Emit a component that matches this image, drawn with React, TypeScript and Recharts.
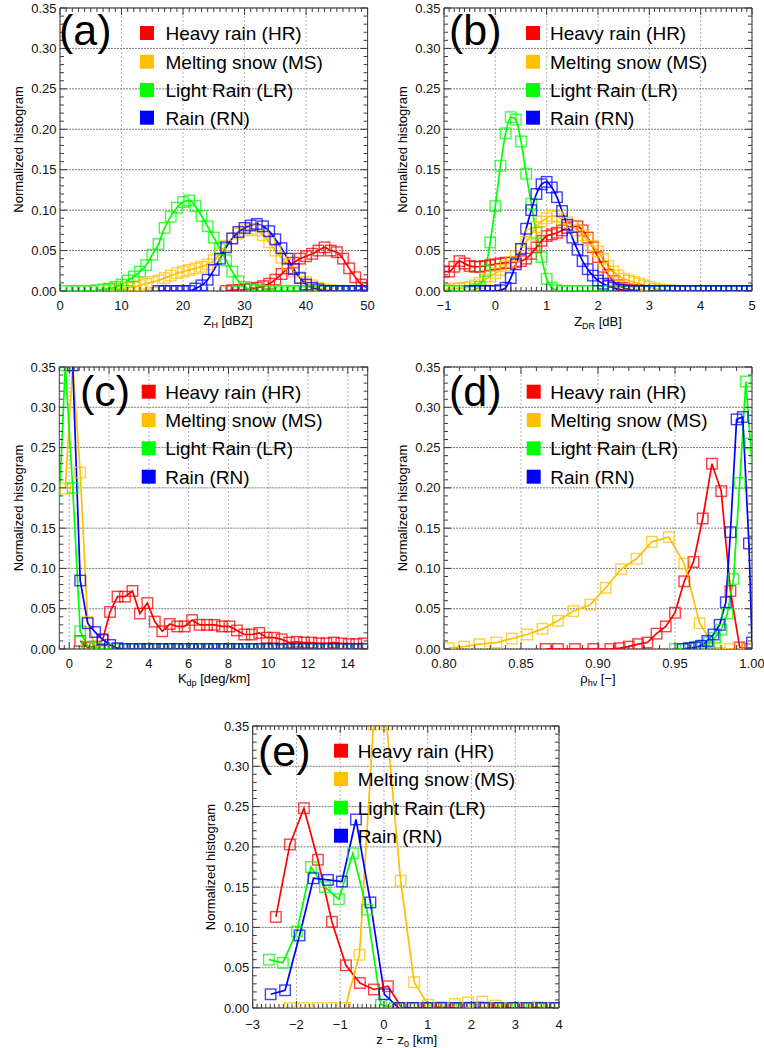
import React from 'react'
import { LineChart, Line, XAxis, YAxis, CartesianGrid, ReferenceArea } from 'recharts'

const FONT = '"Liberation Sans", Arial, Helvetica, sans-serif'
const FRAME = '#3c3c3c'

const CLASS_NAMES = ['Heavy rain (HR)', 'Melting snow (MS)', 'Light Rain (LR)', 'Rain (RN)']
const CLASS_COLORS = ['#ff0000', '#ffc000', '#00ff00', '#0000ff']

const Y_TICKS = [0, 0.05, 0.1, 0.15, 0.2, 0.25, 0.3, 0.35]

// (a) Z_H [dBZ]
const ZH_TICKS = [0, 10, 20, 30, 40, 50]
const ZH_BINS = [
    0, 1, 2, 3, 4, 5, 6, 7, 8, 9, 10, 11, 12, 13, 14, 15, 16, 17, 18, 19, 20, 21, 22, 23, 24, 25,
    26, 27, 28, 29, 30, 31, 32, 33, 34, 35, 36, 37, 38, 39, 40, 41, 42, 43, 44, 45, 46, 47, 48, 49, 50,
]
const ZH_HR = [
    0, 0.001, 0.001, 0.002, 0.003, 0.004, 0.006, 0.009, 0.014, 0.021, 0.028, 0.035, 0.04, 0.043,
    0.046, 0.05, 0.054, 0.05, 0.048, 0.04, 0.028, 0.017, 0.008, 0.004,
]
const ZH_MS = [
    0.001, 0.002, 0.003, 0.004, 0.005, 0.007, 0.009, 0.011, 0.013, 0.016, 0.019, 0.022, 0.024, 0.026,
    0.028, 0.03, 0.033, 0.038, 0.046, 0.056, 0.065, 0.071, 0.075, 0.077, 0.075, 0.069, 0.06, 0.05,
    0.041, 0.033, 0.024, 0.017, 0.011, 0.007, 0.004, 0.002, 0.001, 0, 0,
]
const ZH_LR = [
    0, 0, 0, 0, 0, 0.001, 0.002, 0.003, 0.005, 0.008, 0.013, 0.018, 0.024, 0.032, 0.045, 0.058,
    0.078, 0.092, 0.103, 0.11, 0.112, 0.105, 0.093, 0.08, 0.066, 0.052, 0.038, 0.024, 0.012, 0.005,
    0.002, 0.001, 0, 0, 0, 0, 0, 0, 0, 0, 0, 0, 0, 0, 0, 0, 0, 0, 0, 0,
]
const ZH_RN = [
    0, 0, 0, 0, 0, 0, 0.003, 0.007, 0.014, 0.026, 0.04, 0.054, 0.065, 0.073, 0.078, 0.081, 0.083,
    0.08, 0.074, 0.064, 0.053, 0.04, 0.027, 0.016, 0.008, 0.004, 0.002, 0, 0, 0, 0, 0, 0, 0, 0,
]

// (b) Z_DR [dB]
const ZDR_TICKS = [-1, 0, 1, 2, 3, 4, 5]
const ZDR_BINS = [
    -1, -0.9, -0.8, -0.7, -0.6, -0.5, -0.4, -0.3, -0.2, -0.1, 0, 0.1, 0.2, 0.3, 0.4, 0.5, 0.6, 0.7,
    0.8, 0.9, 1, 1.1, 1.2, 1.3, 1.4, 1.5, 1.6, 1.7, 1.8, 1.9, 2, 2.1, 2.2, 2.3, 2.4, 2.5, 2.6, 2.7,
    2.8, 2.9, 3, 3.1, 3.2, 3.3, 3.4, 3.5, 3.6, 3.7, 3.8, 3.9, 4, 4.1, 4.2, 4.3, 4.4, 4.5, 4.6, 4.7,
    4.8, 4.9, 5,
]
const ZDR_HR = [
    0.024, 0.024, 0.03, 0.037, 0.034, 0.031, 0.03, 0.03, 0.031, 0.032, 0.033, 0.034, 0.035, 0.035,
    0.036, 0.037, 0.04, 0.046, 0.054, 0.062, 0.068, 0.07, 0.072, 0.075, 0.078, 0.08, 0.08, 0.075,
    0.066, 0.054, 0.042, 0.03, 0.02, 0.012, 0.007, 0.004, 0.002, 0.001, 0.001, 0,
    null, null, null, null, null, null, null, null, null, null, null,
    null, null, null, null, null, null, null, null, null, null,
]
const ZDR_MS = [
    0.002, 0.002, 0.003, 0.003, 0.004, 0.005, 0.007, 0.01, 0.014, 0.018, 0.022, 0.026, 0.031, 0.036,
    0.043, 0.052, 0.061, 0.07, 0.079, 0.086, 0.09, 0.093, 0.092, 0.089, 0.085, 0.08, 0.075, 0.069,
    0.063, 0.056, 0.049, 0.04, 0.031, 0.024, 0.019, 0.015, 0.013, 0.011, 0.009, 0.007, 0.005, 0.003,
    0.002, 0.001, 0.001, 0, 0,
    null, null, null, null, null, null, null, null, null, null, null, null, null, null,
]
const ZDR_LR = [
    0, 0, 0, 0, 0, 0, 0.002, 0.005, 0.025, 0.06, 0.105, 0.155, 0.195, 0.215, 0.212, 0.185, 0.145,
    0.108, 0.072, 0.042, 0.015, 0.004, 0.001,
    0, 0, 0, 0, 0, 0, 0, 0, 0, 0, 0, 0, 0, 0, 0, 0, 0, 0, 0, 0,
    0, 0, 0, 0, 0, 0, 0, 0, 0, 0, 0, 0, 0, 0, 0, 0, 0, 0,
]
const ZDR_RN = [
    null, null, null, null, null, 0, 0, 0, 0, 0, 0, 0.001, 0.004, 0.016, 0.033, 0.052, 0.077, 0.1,
    0.12, 0.132, 0.135, 0.128, 0.116, 0.099, 0.082, 0.066, 0.051, 0.037, 0.027, 0.019, 0.013, 0.009,
    0.006, 0.004, 0.002, 0.001,
    0, 0, 0, 0, 0, 0, 0, 0, 0, 0, 0, 0, 0, 0, 0, 0, 0, 0, 0, 0, 0, 0, 0, 0, 0,
]

// (c) K_dp [deg/km]
const KDP_TICKS = [0, 2, 4, 6, 8, 10, 12, 14]
const KDP_BINS = [
    -0.575, -0.2, 0.175, 0.55, 0.925, 1.3, 1.675, 2.05, 2.425, 2.8, 3.175, 3.55, 3.925, 4.3, 4.675,
    5.05, 5.425, 5.8, 6.175, 6.55, 6.925, 7.3, 7.675, 8.05, 8.425, 8.8, 9.175, 9.55, 9.925, 10.3,
    10.675, 11.05, 11.425, 11.8, 12.175, 12.55, 12.925, 13.3, 13.675, 14.05, 14.425, 14.8,
]
const KDP_HR = [
    null, null, null, 0.01, 0.002, 0.003, 0.011, 0.046, 0.065, 0.065, 0.072, 0.044, 0.057, 0.034,
    0.022, 0.031, 0.028, 0.028, 0.036, 0.03, 0.03, 0.03, 0.028, 0.028, 0.023, 0.018, 0.018, 0.02,
    0.014, 0.014, 0.012, 0.008, 0.009, 0.008, 0.008, 0.007, 0.007, 0.008, 0.007, 0.006, 0.006, 0.007,
]
const KDP_MS = [
    null, 0.199, 0.352, 0.219, 0.034, 0.002,
    0, 0, 0, 0, 0, 0, 0, 0, 0, 0, 0, 0, 0, 0, 0, 0, 0, 0, 0, 0, 0, 0, 0, 0, 0, 0, 0, 0, 0, 0, 0, 0,
    0, 0, 0, 0,
]
const KDP_LR = [
    0.14, 0.352, 0.2, 0.022, 0.003, 0.001,
    0, 0, 0, 0, 0, 0, 0, 0, 0, 0, 0, 0, 0, 0, 0, 0, 0, 0, 0, 0, 0, 0, 0, 0, 0, 0, 0, 0, 0, 0, 0, 0,
    0, 0, 0, 0,
]
const KDP_RN = [
    null, 0.45, 0.352, 0.085, 0.032, 0.021, 0.012, 0.005, 0.001,
    0, 0, 0, 0, 0, 0, 0, 0, 0, 0, 0, 0, 0, 0, 0, 0, 0, 0, 0, 0, 0, 0, 0, 0, 0, 0, 0, 0, 0, 0, 0, 0,
    0,
]

// (d) rho_hv [-]
const RHO_TICKS = [0.8, 0.85, 0.9, 0.95, 1.0]
const RHO_HR_X = [
    0.866, 0.874, 0.885, 0.897, 0.908, 0.914, 0.92, 0.926, 0.932, 0.938, 0.944, 0.95, 0.956, 0.962,
    0.968, 0.974, 0.98, 0.986, 0.992, 0.997,
]
const RHO_HR = [
    0, 0, 0, 0, 0, 0.001, 0.003, 0.006, 0.008, 0.019, 0.028, 0.045, 0.084, 0.108, 0.162, 0.23, 0.196,
    0.072, 0.002, 0,
]
const RHO_MS_X = [
    0.803, 0.813, 0.823, 0.834, 0.844, 0.854, 0.864, 0.874, 0.884, 0.895, 0.905, 0.915, 0.925, 0.935,
    0.946, 0.956, 0.966, 0.976, 0.986, 0.997,
]
const RHO_MS = [
    0.001, 0.003, 0.006, 0.008, 0.013, 0.018, 0.025, 0.035, 0.047, 0.055, 0.076, 0.099, 0.112, 0.133,
    0.139, 0.106, 0.032, 0.002, 0, 0,
]
const RHO_LR_X = [0.95, 0.955, 0.96, 0.964, 0.968, 0.972, 0.976, 0.98, 0.984, 0.988, 0.992, 0.996, 0.999, 1.002]
const RHO_LR = [0, 0, 0.001, 0.002, 0.004, 0.008, 0.014, 0.024, 0.044, 0.087, 0.206, 0.332, 0.255, 0.17]
const RHO_RN_X = [0.955, 0.959, 0.963, 0.967, 0.971, 0.975, 0.979, 0.983, 0.986, 0.99, 0.994, 0.998, 1.0]
const RHO_RN = [0, 0.001, 0.002, 0.004, 0.01, 0.018, 0.03, 0.058, 0.145, 0.285, 0.288, 0.131, 0.008]

// (e) z - z0 [km]
const DZ_TICKS = [-3, -2, -1, 0, 1, 2, 3, 4]
const DZ_HR_X = [
    -2.47, -2.15, -1.83, -1.51, -1.19, -0.87, -0.55, -0.23, 0.09, 0.41, 0.73, 1.05, 1.37, 1.69, 2.01,
    2.33, 2.65, 2.97, 3.29, 3.61, 3.93,
]
const DZ_HR = [0.113, 0.203, 0.248, 0.184, 0.107, 0.053, 0.031, 0.023, 0.027, 0, 0, 0, 0, 0, 0, 0, 0, 0, 0, 0, 0]
const DZ_MS_X = [
    -2.15, -1.84, -1.52, -1.2, -0.89, -0.56, -0.24, 0.06, 0.38, 0.69, 1.01, 1.31, 1.62, 1.92, 2.25,
    2.55, 2.87, 3.18, 3.48, 3.79,
]
const DZ_MS = [0, 0, 0, 0, 0, 0.066, 0.352, 0.352, 0.158, 0.032, 0.004, 0.001, 0.005, 0.007, 0.008, 0.003, 0, 0, 0.001, 0]
const DZ_LR_X = [
    -2.63, -2.31, -1.99, -1.67, -1.35, -1.03, -0.71, -0.39, -0.07, 0.25, 0.57, 0.89, 1.21, 1.53, 1.85,
    2.17, 2.49, 2.81, 3.13, 3.45, 3.77,
]
const DZ_LR = [0.06, 0.056, 0.095, 0.175, 0.15, 0.135, 0.192, 0.122, 0.004, 0, 0, 0, 0, 0, 0, 0, 0, 0, 0, 0, 0]
const DZ_RN_X = [
    -2.59, -2.26, -1.93, -1.61, -1.28, -0.96, -0.64, -0.31, 0.01, 0.34, 0.66, 0.99, 1.31, 1.64, 1.96,
    2.29, 2.61, 2.94, 3.26, 3.59, 3.91,
]
const DZ_RN = [0.017, 0.022, 0.09, 0.161, 0.159, 0.157, 0.234, 0.131, 0.017, 0, 0, 0, 0, 0, 0, 0, 0, 0, 0, 0, 0]

type Series = { x: number[]; y: (number | null)[] }

interface PanelCfg {
    label: string
    box: { l: number; t: number; w: number; h: number }
    plot: { l: number; t: number; r: number; b: number }
    xDomain: [number, number]
    xMajor: number[]
    xMinorStep: number
    xFmt: (v: number) => string
    series: Series[]
    smooth: boolean
    tickBase: number
    labelPos: [number, number]
    legend: { sq: number; tx: number; rows: number[] }
    yTitle: [number, number]
    xTitle: [number, number]
    xTitleText: React.ReactNode
}

// tick mark positions only (not data)
const steps = (a: number, b: number, step: number) => {
    const out: number[] = []
    const n = Math.round((b - a) / step)
    for (let i = 0; i <= n; i++) out.push(Math.round((a + i * step) * 1e6) / 1e6)
    return out
}
const isIn = (list: number[], v: number) => list.some(m => Math.abs(m - v) < 1e-6)
const minus = (v: number) => (v < 0 ? '\u2212' + Math.abs(v) : String(v))

const sub = (main: string, s: string, rest: string) => (
    <>
        {main}
        <tspan fontSize={9} dy={3}>{s}</tspan>
        <tspan dy={-3}>{rest}</tspan>
    </>
)

const ROWS_TOP = [33, 61.7, 90, 117.7]
const ROWS_MID = [391.7, 420, 448.3, 476.7]
const ROWS_BOT = [750.7, 779, 807.7, 835.7]

const PANELS: PanelCfg[] = [
    {
        label: '(a)',
        box: { l: 0, t: 0, w: 380, h: 335 },
        plot: { l: 60, t: 8, r: 367.6, b: 291 },
        xDomain: [0, 50],
        xMajor: ZH_TICKS,
        xMinorStep: 1,
        xFmt: v => String(v),
        series: [
            { x: ZH_BINS.slice(27), y: ZH_HR },
            { x: ZH_BINS.slice(8, 47), y: ZH_MS },
            { x: ZH_BINS.slice(1), y: ZH_LR },
            { x: ZH_BINS.slice(16), y: ZH_RN },
        ],
        smooth: true,
        tickBase: 18.7,
        labelPos: [59, 45],
        legend: { sq: 140, tx: 165.5, rows: ROWS_TOP },
        yTitle: [22.7, 149.5],
        xTitle: [228, 325],
        xTitleText: sub('Z', 'H', '\u00a0[dBZ]'),
    },
    {
        label: '(b)',
        box: { l: 384, t: 0, w: 380, h: 335 },
        plot: { l: 444, t: 8, r: 752, b: 291 },
        xDomain: [-1, 5],
        xMajor: ZDR_TICKS,
        xMinorStep: 0.1,
        xFmt: minus,
        series: [
            { x: ZDR_BINS, y: ZDR_HR },
            { x: ZDR_BINS, y: ZDR_MS },
            { x: ZDR_BINS, y: ZDR_LR },
            { x: ZDR_BINS, y: ZDR_RN },
        ],
        smooth: true,
        tickBase: 18.7,
        labelPos: [449, 45],
        legend: { sq: 526, tx: 550, rows: ROWS_TOP },
        yTitle: [407.4, 149.5],
        xTitle: [598, 326],
        xTitleText: sub('Z', 'DR', '\u00a0[dB]'),
    },
    {
        label: '(c)',
        box: { l: 0, t: 335, w: 380, h: 360 },
        plot: { l: 59.3, t: 367, r: 367.7, b: 649 },
        xDomain: [-0.5, 15],
        xMajor: KDP_TICKS,
        xMinorStep: 0.25,
        xFmt: v => String(v),
        series: [
            { x: KDP_BINS, y: KDP_HR },
            { x: KDP_BINS, y: KDP_MS },
            { x: KDP_BINS, y: KDP_LR },
            { x: KDP_BINS, y: KDP_RN },
        ],
        smooth: false,
        tickBase: 18.7,
        labelPos: [80, 406],
        legend: { sq: 141.7, tx: 165.2, rows: ROWS_MID },
        yTitle: [22.7, 508],
        xTitle: [214, 683],
        xTitleText: sub('K', 'dp', '\u00a0[deg/km]'),
    },
    {
        label: '(d)',
        box: { l: 384, t: 335, w: 380, h: 360 },
        plot: { l: 444, t: 367, r: 752, b: 649 },
        xDomain: [0.8, 1.0],
        xMajor: RHO_TICKS,
        xMinorStep: 0.01,
        xFmt: v => v.toFixed(2),
        series: [
            { x: RHO_HR_X, y: RHO_HR },
            { x: RHO_MS_X, y: RHO_MS },
            { x: RHO_LR_X, y: RHO_LR },
            { x: RHO_RN_X, y: RHO_RN },
        ],
        smooth: false,
        tickBase: 18.7,
        labelPos: [449, 406],
        legend: { sq: 526.7, tx: 550.2, rows: ROWS_MID },
        yTitle: [407.4, 508],
        xTitle: [598, 683],
        xTitleText: sub('\u03c1', 'hv', '\u00a0[\u2212]'),
    },
    {
        label: '(e)',
        box: { l: 192, t: 695, w: 380, h: 353 },
        plot: { l: 252.7, t: 726, r: 559, b: 1008 },
        xDomain: [-3, 4],
        xMajor: DZ_TICKS,
        xMinorStep: 0.1,
        xFmt: minus,
        series: [
            { x: DZ_HR_X, y: DZ_HR },
            { x: DZ_MS_X, y: DZ_MS },
            { x: DZ_LR_X, y: DZ_LR },
            { x: DZ_RN_X, y: DZ_RN },
        ],
        smooth: false,
        tickBase: 20.5,
        labelPos: [258, 766],
        legend: { sq: 334, tx: 357.8, rows: ROWS_BOT },
        yTitle: [214.7, 867],
        xTitle: [406.7, 1043.5],
        xTitleText: sub('z \u2212 z', '0', '\u00a0[km]'),
    },
]

// hollow square marker; points outside the x range are not drawn
const renderSquare = (color: string, domain: [number, number]) => (p: any) => {
    const k = `sq-${p.index}`
    const pl = p.payload
    if (p.cx == null || p.cy == null || pl == null || pl.y == null) return <g key={k} />
    if (pl.x < domain[0] || pl.x > domain[1]) return <g key={k} />
    return (
        <rect
            key={k}
            x={p.cx - 5.25}
            y={p.cy - 5.25}
            width={10.5}
            height={10.5}
            fill="none"
            stroke={color}
            strokeWidth={1.4}
            strokeOpacity={0.75}
        />
    )
}

function Panel({ cfg }: { cfg: PanelCfg }) {
    const { box, plot } = cfg
    const plotW = plot.r - plot.l
    const plotH = plot.b - plot.t
    const xTicks = steps(cfg.xDomain[0], cfg.xDomain[1], cfg.xMinorStep)
    const yTicks = steps(0, 0.35, 0.01)

    const xTick = (p: any) => {
        const v = p.payload.value
        const major = isIn(cfg.xMajor, v)
        const len = major ? 7 : 4
        return (
            <g>
                <line x1={p.x} y1={p.y} x2={p.x} y2={p.y - len} stroke={FRAME} />
                <line x1={p.x} y1={p.y - plotH} x2={p.x} y2={p.y - plotH + len} stroke={FRAME} />
                {major && (
                    <text x={p.x} y={p.y + cfg.tickBase} textAnchor="middle" fontSize={13} fontFamily={FONT} fill="#111">
                        {cfg.xFmt(v)}
                    </text>
                )}
            </g>
        )
    }

    const yTick = (p: any) => {
        const v = p.payload.value
        const major = isIn(Y_TICKS, v)
        const len = major ? 7 : 4
        return (
            <g>
                <line x1={p.x} y1={p.y} x2={p.x + len} y2={p.y} stroke={FRAME} />
                <line x1={p.x + plotW} y1={p.y} x2={p.x + plotW - len} y2={p.y} stroke={FRAME} />
                {major && (
                    <text x={p.x - 3.5} y={p.y + 4.6} textAnchor="end" fontSize={13} fontFamily={FONT} fill="#111">
                        {v.toFixed(2)}
                    </text>
                )}
            </g>
        )
    }

    return (
        <div style={{ position: 'absolute', left: box.l, top: box.t }}>
            <LineChart
                width={box.w}
                height={box.h}
                margin={{ top: plot.t - box.t, right: box.l + box.w - plot.r, bottom: 0, left: 0 }}
            >
                <CartesianGrid
                    xAxisId="x"
                    yAxisId="y"
                    horizontal={false}
                    verticalValues={cfg.xMajor}
                    stroke="#b4b4b4"
                    strokeDasharray="2 2"
                />
                <CartesianGrid
                    xAxisId="x"
                    yAxisId="y"
                    vertical={false}
                    horizontalValues={Y_TICKS}
                    stroke="#7a7a7a"
                    strokeDasharray="2 1"
                />
                <XAxis
                    xAxisId="x"
                    type="number"
                    dataKey="x"
                    domain={cfg.xDomain}
                    allowDataOverflow
                    ticks={xTicks}
                    interval={0}
                    height={box.t + box.h - plot.b}
                    axisLine={false}
                    tickLine={false}
                    tickSize={0}
                    tickMargin={0}
                    tick={xTick}
                />
                <YAxis
                    yAxisId="y"
                    type="number"
                    domain={[0, 0.35]}
                    allowDataOverflow
                    ticks={yTicks}
                    interval={0}
                    width={plot.l - box.l}
                    axisLine={false}
                    tickLine={false}
                    tickSize={0}
                    tickMargin={0}
                    tick={yTick}
                />
                <ReferenceArea
                    xAxisId="x"
                    yAxisId="y"
                    x1={cfg.xDomain[0]}
                    x2={cfg.xDomain[1]}
                    y1={0}
                    y2={0.35}
                    fill="none"
                    fillOpacity={0}
                    stroke={FRAME}
                    strokeWidth={1}
                />
                {cfg.series.map((s, i) => (
                    <Line
                        key={CLASS_NAMES[i]}
                        xAxisId="x"
                        yAxisId="y"
                        data={s.x.map((x, j) => ({ x, y: s.y[j] }))}
                        dataKey="y"
                        type={cfg.smooth ? 'monotone' : 'linear'}
                        stroke={CLASS_COLORS[i]}
                        strokeWidth={1.7}
                        dot={renderSquare(CLASS_COLORS[i], cfg.xDomain)}
                        activeDot={false}
                        isAnimationActive={false}
                    />
                ))}
            </LineChart>
        </div>
    )
}

export default function App() {
    return (
        <div style={{ position: 'absolute', left: 0, top: 0, width: 764, height: 1048, background: '#fff' }}>
            {PANELS.map(cfg => (
                <Panel key={cfg.label} cfg={cfg} />
            ))}
            <svg
                width={764}
                height={1048}
                style={{ position: 'absolute', left: 0, top: 0, pointerEvents: 'none' }}
            >
                {PANELS.map(cfg => (
                    <g key={cfg.label} fontFamily={FONT} fill="#000">
                        <text x={cfg.labelPos[0]} y={cfg.labelPos[1]} fontSize={43}>
                            {cfg.label}
                        </text>
                        {CLASS_NAMES.map((name, i) => (
                            <g key={name}>
                                <rect x={cfg.legend.sq} y={cfg.legend.rows[i] - 7} width={14} height={14} fill={CLASS_COLORS[i]} />
                                <text x={cfg.legend.tx} y={cfg.legend.rows[i] + 6.8} fontSize={19}>
                                    {name}
                                </text>
                            </g>
                        ))}
                        <text
                            x={cfg.yTitle[0]}
                            y={cfg.yTitle[1]}
                            fontSize={13}
                            textAnchor="middle"
                            transform={`rotate(-90 ${cfg.yTitle[0]} ${cfg.yTitle[1]})`}
                        >
                            Normalized histogram
                        </text>
                        <text x={cfg.xTitle[0]} y={cfg.xTitle[1]} fontSize={13} textAnchor="middle">
                            {cfg.xTitleText}
                        </text>
                    </g>
                ))}
            </svg>
        </div>
    )
}
